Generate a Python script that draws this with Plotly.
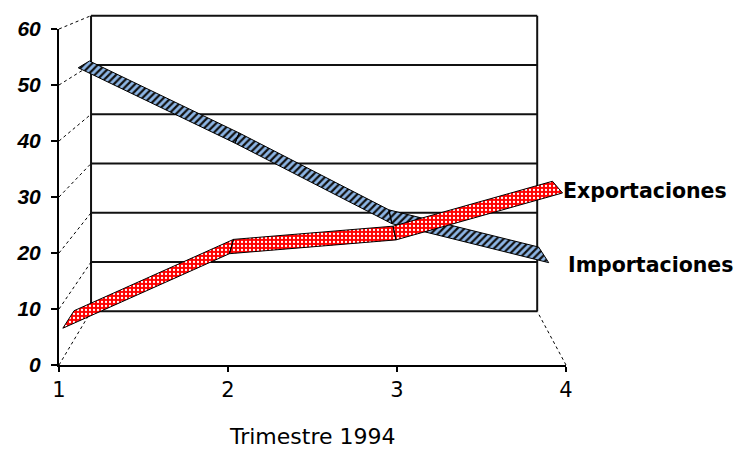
import plotly.graph_objects as go

# Quarterly trade figures, 1994
trimestres = [1, 2, 3, 4]
exportaciones = [5.5, 19, 21.5, 30]
importaciones = [51, 36.5, 21, 13.5]
y_ticks = [0, 10, 20, 30, 40, 50, 60]

W, H = 736, 450

# Front plane of the 3-D box, in pixels
FX0, FX1 = 59, 566      # category 1 .. 4
FY0, FY1 = 365, 29      # value 0 .. 60
PPX = (FX1 - FX0) / 3.0
PPY = (FY0 - FY1) / 60.0

# Perspective: vanishing point (pixels) and scale of the back wall
VP_PX, VP_PY = 326, -82
BACK_SCALE = 0.88

VX = 1 + (VP_PX - FX0) / PPX
VY = (FY0 - VP_PY) / PPY


def proj(x, v, d):
    """Project (category, value, depth 0=front..1=back) onto the front plane."""
    s = 1 - (1 - BACK_SCALE) * d
    return VX + s * (x - VX), VY + s * (v - VY)


fig = go.Figure()

# Back wall: gridlines and frame
wx, wy = [], []
for v in y_ticks:
    for x in (1, 4):
        px, py = proj(x, v, 1)
        wx.append(px); wy.append(py)
    wx.append(None); wy.append(None)
for x in (1, 4):
    for v in (0, 60):
        px, py = proj(x, v, 1)
        wx.append(px); wy.append(py)
    wx.append(None); wy.append(None)
fig.add_trace(go.Scatter(x=wx, y=wy, mode="lines", hoverinfo="skip",
                         line=dict(color="#111111", width=2), showlegend=False))

# Dotted depth lines: side wall at category 1, floor edge at category 4
dx, dy = [], []
for v in y_ticks:
    for d in (0, 1):
        px, py = proj(1, v, d)
        dx.append(px); dy.append(py)
    dx.append(None); dy.append(None)
for d in (0, 1):
    px, py = proj(4, 0, d)
    dx.append(px); dy.append(py)
fig.add_trace(go.Scatter(x=dx, y=dy, mode="lines", hoverinfo="skip",
                         line=dict(color="black", width=1, dash="dot"), showlegend=False))


def ribbon(values, d_front, d_back, pattern, name):
    xs, ys = [], []
    for i in range(len(trimestres) - 1):
        pts = [proj(trimestres[i], values[i], d_front),
               proj(trimestres[i + 1], values[i + 1], d_front),
               proj(trimestres[i + 1], values[i + 1], d_back),
               proj(trimestres[i], values[i], d_back)]
        pts.append(pts[0])
        for px, py in pts:
            xs.append(px); ys.append(py)
        xs.append(None); ys.append(None)
    return go.Scatter(x=xs, y=ys, mode="lines", fill="toself", name=name,
                      line=dict(color="black", width=1), fillpattern=pattern,
                      fillcolor=pattern["bgcolor"], showlegend=False, hoverinfo="skip")


IMP_DEPTH = (0.60, 0.95)
EXP_DEPTH = (0.12, 0.47)

fig.add_trace(ribbon(importaciones, *IMP_DEPTH,
                     dict(shape="/", bgcolor="#8DB6E6", fgcolor="#111111",
                          size=5, solidity=0.45), "Importaciones"))
fig.add_trace(ribbon(exportaciones, *EXP_DEPTH,
                     dict(shape=".", bgcolor="#FF0000", fgcolor="#FFFFFF",
                          size=4, solidity=0.25), "Exportaciones"))

# Front axes
fig.add_trace(go.Scatter(x=[None], y=[None], xaxis="x2", yaxis="y2",
                         showlegend=False, hoverinfo="skip"))

lab_font = dict(family="DejaVu Sans", size=20.5, color="black", weight="bold")
ex, ey = proj(4, exportaciones[-1], EXP_DEPTH[0])
ix, iy = proj(4, importaciones[-1], IMP_DEPTH[0])
annotations = [
    dict(x=ex, y=ey, xref="x", yref="y", text="Exportaciones", showarrow=False,
         xanchor="left", yanchor="middle", xshift=-2, yshift=2, font=lab_font),
    dict(x=ix, y=iy, xref="x", yref="y", text="Importaciones", showarrow=False,
         xanchor="left", yanchor="middle", xshift=17, yshift=-2, font=lab_font),
    dict(x=2.5, y=(H - 436) / H, xref="x2", yref="paper", text="Trimestre 1994",
         showarrow=False, xanchor="center", yanchor="middle",
         font=dict(family="DejaVu Sans", size=22, color="black")),
]

fig.update_layout(
    template="none",
    width=W, height=H, autosize=False,
    margin=dict(l=0, r=0, t=0, b=0, pad=0),
    paper_bgcolor="white", plot_bgcolor="rgba(0,0,0,0)",
    showlegend=False,
    xaxis=dict(domain=[0, 1], range=[1 - FX0 / PPX, 1 + (W - FX0) / PPX],
               visible=False, fixedrange=True, automargin=False),
    yaxis=dict(domain=[0, 1], range=[-(H - FY0) / PPY, FY0 / PPY],
               visible=False, fixedrange=True, automargin=False),
    xaxis2=dict(domain=[FX0 / W, FX1 / W], anchor="y2", range=[1, 4],
                tickvals=trimestres, ticks="outside", ticklen=5, tickwidth=1.5,
                tickcolor="black", showline=True, linewidth=2, linecolor="black",
                showgrid=False, zeroline=False, automargin=False, fixedrange=True,
                tickfont=dict(family="DejaVu Sans", size=21, color="black")),
    yaxis2=dict(domain=[(H - FY0) / H, (H - FY1) / H], anchor="x2", range=[0, 60],
                tickvals=y_ticks, ticks="outside", ticklen=6, tickwidth=1.5,
                tickcolor="black", showline=True, linewidth=2, linecolor="black",
                showgrid=False, zeroline=False, ticklabelstandoff=6,
                automargin=False, fixedrange=True,
                tickfont=dict(family="Liberation Sans", size=21, color="black",
                              weight="bold", style="italic")),
    annotations=annotations,
)

fig.write_html("out.html")
